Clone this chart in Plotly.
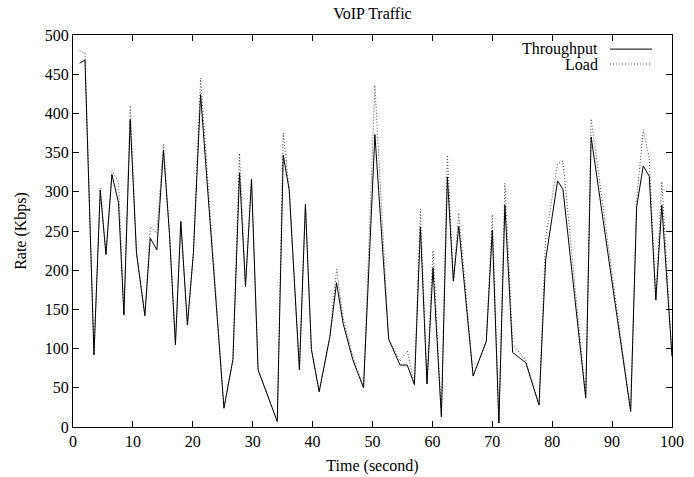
import plotly.graph_objects as go

time_s = [1.1, 2.0, 3.5, 4.55, 5.5, 6.5, 7.6, 8.5, 9.55, 10.6,
          12.0, 12.9, 14.0, 15.1, 16.1, 17.1, 18.0, 19.1, 20.1, 21.3,
          25.2, 26.7, 27.8, 28.8, 29.8, 30.9, 34.1, 35.1, 36.1, 37.8,
          38.8, 39.8, 41.1, 42.9, 44.0, 45.1, 46.7, 48.5, 50.4, 52.7,
          54.6, 55.8, 57.0, 58.0, 59.1, 60.1, 61.5, 62.5, 63.5, 64.4,
          66.8, 69.0, 70.0, 71.1, 72.1, 73.4, 75.6, 77.8, 78.9, 80.9,
          81.8, 85.6, 86.5, 93.1, 94.1, 95.2, 96.2, 97.3, 98.3, 100]

throughput = [464, 468, 92, 302, 220, 322, 286, 143, 392, 222,
              142, 241, 226, 353, 247, 105, 262, 130, 222, 424,
              24, 86, 324, 179, 316, 73, 7, 347, 302, 73,
              284, 99, 45, 116, 184, 132, 86, 50, 373, 112,
              79, 79, 54, 255, 55, 203, 13, 319, 186, 256,
              65, 109, 251, 5, 283, 95, 82, 28, 213, 314,
              303, 37, 370, 20, 281, 333, 320, 162, 283, 90]

load = [480, 477, 92, 305, 220, 326, 313, 143, 410, 222,
        142, 256, 247, 361, 247, 105, 262, 130, 222, 445,
        24, 86, 349, 179, 316, 73, 7, 375, 302, 73,
        284, 99, 45, 116, 201, 139, 90, 50, 436, 112,
        84, 97, 54, 278, 55, 225, 13, 347, 186, 273,
        65, 111, 271, 5, 311, 105, 85, 28, 241, 336,
        339, 37, 393, 20, 290, 379, 343, 162, 313, 90]

x_ticks = list(range(0, 101, 10))
y_ticks = list(range(0, 501, 50))

FONT = "Liberation Serif"
W, H = 694, 477
L, R, T, B = 73, 22, 35, 50

fig = go.Figure()
fig.add_trace(go.Scatter(x=time_s, y=load, mode="lines", name="Load",
                         line=dict(color="#444444", width=1, dash="1px,2px")))
fig.add_trace(go.Scatter(x=time_s, y=throughput, mode="lines", name="Throughput",
                         line=dict(color="black", width=1)))

axis_common = dict(showgrid=False, zeroline=False, showline=True, linecolor="black",
                   linewidth=1, mirror="ticks", ticks="inside", ticklen=6,
                   tickcolor="black", tickfont=dict(family=FONT, size=16, color="black"))

fig.update_layout(
    width=W, height=H,
    margin=dict(l=L, r=R, t=T, b=B, autoexpand=False),
    paper_bgcolor="white", plot_bgcolor="white",
    showlegend=False,
    font=dict(family=FONT, size=16, color="black"),
    title=dict(text="VoIP Traffic", x=(L + (W - R)) / 2 / W, xanchor="center",
               y=1 - 13 / H, yanchor="middle",
               font=dict(family=FONT, size=16, color="black")),
    xaxis=dict(range=[0, 100], tickvals=x_ticks,
               title=dict(text="Time (second)", standoff=10,
                          font=dict(family=FONT, size=16)), **axis_common),
    yaxis=dict(range=[0, 500], tickvals=y_ticks,
               title=dict(text="Rate (Kbps)", standoff=14,
                          font=dict(family=FONT, size=16)), **axis_common),
)

# gnuplot-style key (text right-aligned, sample to the right)
legend_items = [("Throughput", "solid", "black", 0.964), ("Load", "1px,2px", "#444444", 0.926)]
for label, dash, col, yp in legend_items:
    fig.add_annotation(xref="paper", yref="paper", x=0.880, y=yp, text=label,
                       showarrow=False, xanchor="right", yanchor="middle",
                       font=dict(family=FONT, size=16, color="black"))
    fig.add_shape(type="line", xref="paper", yref="paper", x0=0.8965, x1=0.9666,
                  y0=yp, y1=yp, line=dict(color=col, width=1, dash=dash))

fig.write_html("out.html", config={"displayModeBar": False},
               post_script="document.body.style.margin='0';")
